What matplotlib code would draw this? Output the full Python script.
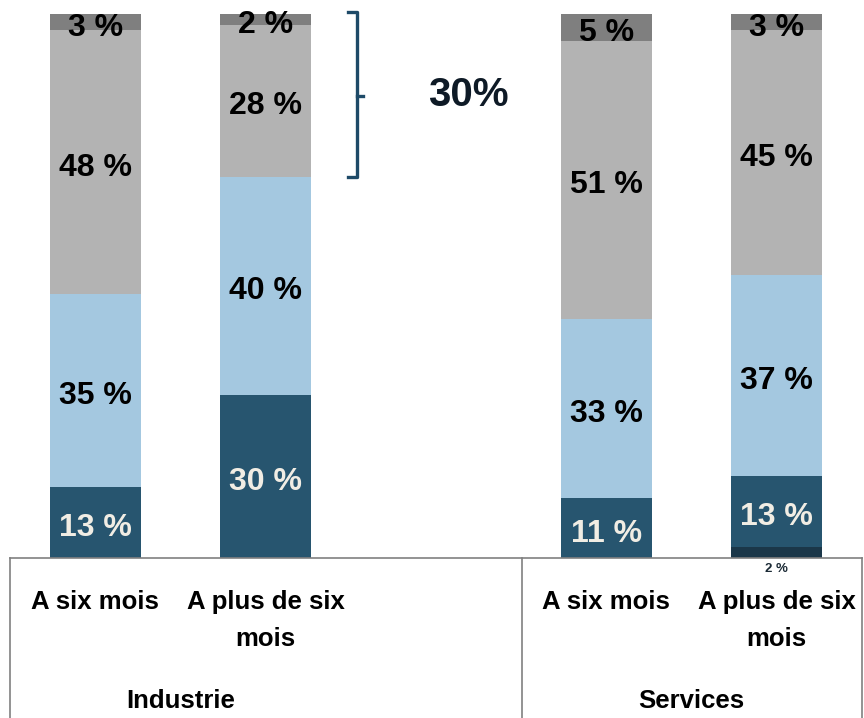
import matplotlib
matplotlib.use("Agg")
import matplotlib.pyplot as plt
from matplotlib.lines import Line2D
import matplotlib.transforms as mtransforms
import numpy as np

plt.rcParams['font.family'] = ['Liberation Sans', 'DejaVu Sans']
plt.rcParams['font.weight'] = 'bold'

# data
categories = ["A six mois", "A plus de six\nmois", "A six mois", "A plus de six\nmois"]
groups = ["Industrie", "Services"]
positions = [0, 1, 3, 4]
group_centers = [0.5, 3.5]
s0 = [0, 0, 0, 2]      # very dark bottom slice
s1 = [13, 30, 11, 13]
s2 = [35, 40, 33, 37]
s3 = [48, 28, 51, 45]
s4 = [3, 2, 5, 3]
bracket_text = "30%"

series = [s0, s1, s2, s3, s4]
colors = ["#1b3749", "#27556f", "#a4c8e0", "#b3b3b3", "#7f7f7f"]
text_colors = ["#1b2a35", "#f1ede4", "#000000", "#000000", "#000000"]

W, H = 864, 718
fig = plt.figure(figsize=(W / 100, H / 100), dpi=100)
# plot area: baseline at y=558px, top at y=14px, x from 10 to 862px
ax = fig.add_axes([10 / W, (H - 558) / H, 852 / W, 544 / H])
ax.set_xlim(-0.5, 4.5)
ax.set_ylim(0, 100)
ax.axis("off")

vals = np.array(series, dtype=float)
totals = vals.sum(axis=0)
vals = vals / totals * 100  # bars are drawn to 100 %

bottom = np.zeros(len(positions))
for i, row in enumerate(vals):
    ax.bar(positions, row, bottom=bottom, width=0.535, color=colors[i], linewidth=0)
    for j, v in enumerate(row):
        raw = series[i][j]
        if raw == 0:
            continue
        if i == 0:
            # tiny slice: label under the axis
            ax.text(positions[j], -2.0, f"{raw} %", ha="center", va="center",
                    fontsize=9.5, color=text_colors[i])
        else:
            ax.text(positions[j], bottom[j] + v / 2 - 1.0, f"{raw} %", ha="center",
                    va="center", fontsize=23, color=text_colors[i])
    bottom += row

# bracket over the top of the second Industrie bar
y_lo = vals[:3, 1].sum()
y_hi = vals[:, 1].sum()
bx = 1.536
bcol = "#1e4a68"
ax.plot([bx - 0.05, bx, bx, bx - 0.05], [y_hi + 0.4, y_hi + 0.4, y_lo, y_lo],
        color=bcol, lw=2.4, clip_on=False, solid_joinstyle="round")
ax.plot([bx, bx + 0.035], [(y_lo + y_hi) / 2] * 2, color=bcol, lw=2.4, clip_on=False)
ax.text(2.19, (y_lo + y_hi) / 2 + 0.2, bracket_text, ha="center", va="center",
        fontsize=29, color="#0e1a26")

# category box under the bars
lc = "#808080"
y0 = (H - 558) / H
fig.add_artist(Line2D([10 / W, 862 / W], [y0, y0], color=lc, lw=1.2))
for xp in [10, 522, 862]:
    fig.add_artist(Line2D([xp / W, xp / W], [0, y0], color=lc, lw=1.2))

trans = mtransforms.blended_transform_factory(ax.transData, fig.transFigure)
for p, c in zip(positions, categories):
    ax.text(p, (H - 590) / H, c, ha="center", va="top", fontsize=18.5,
            transform=trans, linespacing=1.68)
for g, name in zip(group_centers, groups):
    ax.text(g, (H - 701) / H, name, ha="center", va="center", fontsize=18.5,
            transform=trans)

fig.savefig("out.png", dpi=100)
